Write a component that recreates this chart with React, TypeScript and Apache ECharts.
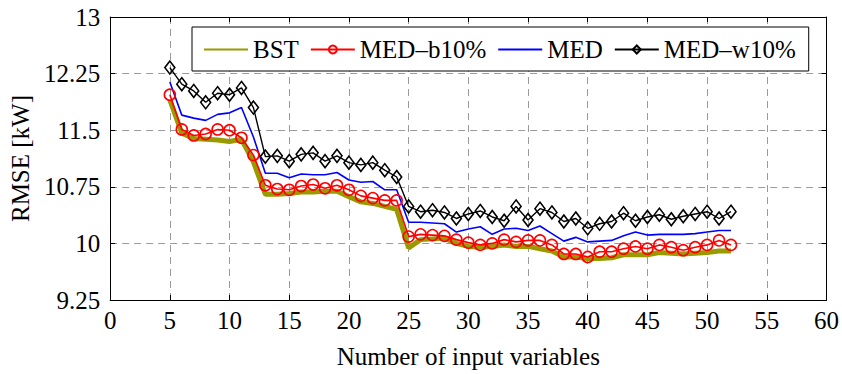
import React, { useEffect, useRef } from "react";
import * as echarts from "echarts";

const xValues = [
  5, 6, 7, 8, 9, 10, 11, 12, 13, 14, 15, 16, 17, 18, 19, 20, 21, 22, 23, 24, 25, 26, 27, 28,
  29, 30, 31, 32, 33, 34, 35, 36, 37, 38, 39, 40, 41, 42, 43, 44, 45, 46, 47, 48, 49, 50, 51, 52,
];

const bst = [
  11.9, 11.46, 11.39, 11.38, 11.37, 11.35, 11.38, 11.08, 10.65, 10.65, 10.66, 10.68, 10.68, 10.69,
  10.69, 10.62, 10.55, 10.53, 10.49, 10.45, 9.94, 10.05, 10.06, 10.07, 10.0, 9.96, 9.95, 9.96,
  9.98, 9.96, 9.96, 9.93, 9.9, 9.82, 9.82, 9.8, 9.8, 9.81, 9.85, 9.85, 9.85, 9.88, 9.87, 9.86,
  9.87, 9.88, 9.9, 9.9,
];

const medB10 = [
  11.97, 11.51, 11.43, 11.45, 11.51, 11.5, 11.4, 11.17, 10.77, 10.72, 10.71, 10.76, 10.78, 10.73,
  10.77, 10.71, 10.63, 10.6, 10.57, 10.57, 10.09, 10.12, 10.11, 10.1, 10.05, 10.01, 9.98, 10.0,
  10.05, 10.02, 10.04, 10.04, 9.98, 9.86, 9.86, 9.82, 9.89, 9.89, 9.93, 9.96, 9.93, 9.98, 9.95,
  9.91, 9.95, 9.98, 10.04, 9.98,
];

const med = [
  12.14, 11.7, 11.66, 11.63, 11.71, 11.73, 11.8, 11.41, 10.93, 10.93, 10.87, 10.92, 10.91, 10.91,
  10.94, 10.84, 10.81, 10.82, 10.71, 10.71, 10.28, 10.28, 10.27, 10.26, 10.15, 10.19, 10.22, 10.12,
  10.19, 10.2, 10.17, 10.23, 10.13, 10.03, 10.08, 10.02, 10.03, 10.04, 10.1, 10.15, 10.11, 10.12,
  10.12, 10.12, 10.13, 10.15, 10.17, 10.17,
];

const medW10 = [
  12.33, 12.11, 12.02, 11.87, 11.99, 11.97, 12.06, 11.8, 11.15, 11.16, 11.09, 11.18, 11.2, 11.09,
  11.16, 11.07, 11.04, 11.07, 10.97, 10.88, 10.49, 10.42, 10.44, 10.41, 10.33, 10.39, 10.43, 10.35,
  10.3, 10.49, 10.31, 10.46, 10.41, 10.29, 10.33, 10.2, 10.26, 10.29, 10.4, 10.3, 10.35, 10.38,
  10.32, 10.36, 10.39, 10.42, 10.33, 10.42,
];

const seriesNames = ["BST", "MED\u2013b10%", "MED", "MED\u2013w10%"];
const xAxisTitle = "Number of input variables";
const yAxisTitle = "RMSE [kW]";

const FONT = "'Liberation Serif', 'Times New Roman', serif";
const FS = 25;

export default function App() {
  const ref = useRef<HTMLDivElement>(null);

  useEffect(() => {
    if (!ref.current) return;
    const chart = echarts.init(ref.current, null, { renderer: "svg" });
    const pair = (ys: number[]) => xValues.map((x, i) => [x, ys[i]]);

    const axisLine = { show: true, onZero: false, lineStyle: { color: "#000", width: 1 } };
    const axisTick = { show: true, inside: true, length: 5, lineStyle: { color: "#000", width: 1 } };
    const splitLine = { show: true, lineStyle: { color: "#9a9a9a", width: 1, type: [7, 5] } };

    chart.setOption({
      animation: false,
      backgroundColor: "#fff",
      textStyle: { fontFamily: FONT },
      grid: { left: 109, right: 15, top: 17, bottom: 74, containLabel: false },
      legend: {
        left: 192,
        top: 27,
        orient: "horizontal",
        padding: [10, 13, 9, 11],
        itemGap: 11,
        itemWidth: 44,
        itemHeight: 10,
        borderColor: "#000",
        borderWidth: 1,
        borderRadius: 0,
        backgroundColor: "#fff",
        textStyle: { fontSize: FS, color: "#000", fontFamily: FONT, lineHeight: 24 },
        data: [
          { name: seriesNames[0], itemStyle: { color: "transparent", borderWidth: 0 } },
          { name: seriesNames[1] },
          { name: seriesNames[2], itemStyle: { color: "transparent", borderWidth: 0 } },
          { name: seriesNames[3] },
        ],
      },
      xAxis: [
        {
          type: "value",
          min: 0,
          max: 60,
          interval: 5,
          position: "bottom",
          name: xAxisTitle,
          nameLocation: "middle",
          nameGap: 44,
          nameTextStyle: { fontSize: FS, color: "#000", fontFamily: FONT },
          axisLine,
          axisTick,
          axisLabel: { fontSize: FS, color: "#000", margin: 8, fontFamily: FONT },
          splitLine,
        },
        {
          type: "value",
          min: 0,
          max: 60,
          interval: 5,
          position: "top",
          axisLine,
          axisTick,
          axisLabel: { show: false },
          splitLine: { show: false },
        },
      ],
      yAxis: [
        {
          type: "value",
          min: 9.25,
          max: 13,
          interval: 0.75,
          position: "left",
          name: yAxisTitle,
          nameLocation: "middle",
          nameGap: 74,
          nameRotate: 90,
          nameTextStyle: { fontSize: FS, color: "#000", fontFamily: FONT },
          axisLine,
          axisTick,
          axisLabel: { fontSize: FS, color: "#000", margin: 10, fontFamily: FONT },
          splitLine,
        },
        {
          type: "value",
          min: 9.25,
          max: 13,
          interval: 0.75,
          position: "right",
          axisLine,
          axisTick,
          axisLabel: { show: false },
          splitLine: { show: false },
        },
      ],
      series: [
        {
          name: seriesNames[0],
          type: "line",
          data: pair(bst),
          symbol: "none",
          itemStyle: { color: "transparent", borderWidth: 0 },
          lineStyle: { color: "#999900", width: 5 },
        },
        {
          name: seriesNames[1],
          type: "line",
          data: pair(medB10),
          symbol: "circle",
          symbolSize: 11,
          showAllSymbol: true,
          itemStyle: { color: "transparent", borderColor: "#ff0000", borderWidth: 1.6 },
          lineStyle: { color: "#ff0000", width: 1.6 },
        },
        {
          name: seriesNames[2],
          type: "line",
          data: pair(med),
          symbol: "none",
          itemStyle: { color: "transparent", borderWidth: 0 },
          lineStyle: { color: "#0000ff", width: 1.6 },
        },
        {
          name: seriesNames[3],
          type: "line",
          data: pair(medW10),
          symbol: "diamond",
          symbolSize: [10, 13],
          showAllSymbol: true,
          itemStyle: { color: "transparent", borderColor: "#000", borderWidth: 1.6 },
          lineStyle: { color: "#000", width: 1.4 },
        },
      ],
    });

    return () => chart.dispose();
  }, []);

  return (
    <div
      ref={ref}
      style={{ position: "fixed", left: 0, top: 0, width: 842, height: 374, background: "#fff" }}
    />
  );
}
